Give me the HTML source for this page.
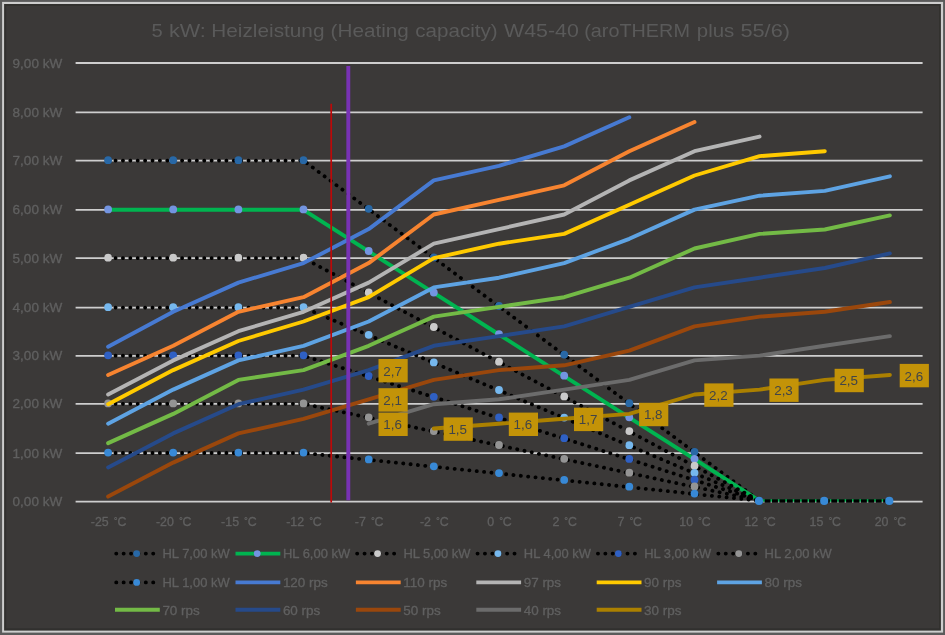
<!DOCTYPE html>
<html><head><meta charset="utf-8"><title>chart</title>
<style>html,body{margin:0;padding:0;background:#3B3938;}body{width:945px;height:635px;overflow:hidden;}svg{display:block;}text{font-family:"Liberation Sans",sans-serif;stroke-linejoin:round;}.t{stroke:#606060;stroke-width:0.3px;}svg{will-change:transform;}</style></head><body>
<svg width="945" height="635" viewBox="0 0 945 635">
<rect x="0" y="0" width="945" height="635" fill="#5A5A5A"/>
<rect x="2.1" y="1.9" width="941" height="630.7" fill="#CDCDCD"/>
<rect x="4.1" y="4" width="936.8" height="626.6" fill="#31302E"/>
<rect x="6.2" y="5.9" width="932.9" height="622.4" fill="#3B3938"/>
<text y="37.4" font-size="18.6" fill="#5A5A5A"><tspan x="151.4" textLength="11.2" lengthAdjust="spacingAndGlyphs">5</tspan> <tspan x="169.0" textLength="36.9" lengthAdjust="spacingAndGlyphs">kW:</tspan> <tspan x="211.3" textLength="113.2" lengthAdjust="spacingAndGlyphs">Heizleistung</tspan> <tspan x="330.6" textLength="78.2" lengthAdjust="spacingAndGlyphs">(Heating</tspan> <tspan x="415.3" textLength="82.4" lengthAdjust="spacingAndGlyphs">capacity)</tspan> <tspan x="504.0" textLength="74.8" lengthAdjust="spacingAndGlyphs">W45-40</tspan> <tspan x="584.2" textLength="105.7" lengthAdjust="spacingAndGlyphs">(aroTHERM</tspan> <tspan x="696.8" textLength="37.5" lengthAdjust="spacingAndGlyphs">plus</tspan> <tspan x="740.4" textLength="49.6" lengthAdjust="spacingAndGlyphs">55/6)</tspan></text>
<line x1="75.6" x2="922.6" y1="501.70" y2="501.70" stroke="#CECECE" stroke-width="1.8"/>
<text x="62.2" y="506.20" text-anchor="end" class="t" font-size="12.4" fill="#606060" textLength="49.6" lengthAdjust="spacingAndGlyphs">0,00 kW</text>
<line x1="75.6" x2="922.6" y1="453.10" y2="453.10" stroke="#CECECE" stroke-width="1.8"/>
<text x="62.2" y="457.60" text-anchor="end" class="t" font-size="12.4" fill="#606060" textLength="49.6" lengthAdjust="spacingAndGlyphs">1,00 kW</text>
<line x1="75.6" x2="922.6" y1="403.90" y2="403.90" stroke="#CECECE" stroke-width="1.8"/>
<text x="62.2" y="408.40" text-anchor="end" class="t" font-size="12.4" fill="#606060" textLength="49.6" lengthAdjust="spacingAndGlyphs">2,00 kW</text>
<line x1="75.6" x2="922.6" y1="355.80" y2="355.80" stroke="#CECECE" stroke-width="1.8"/>
<text x="62.2" y="360.30" text-anchor="end" class="t" font-size="12.4" fill="#606060" textLength="49.6" lengthAdjust="spacingAndGlyphs">3,00 kW</text>
<line x1="75.6" x2="922.6" y1="307.70" y2="307.70" stroke="#CECECE" stroke-width="1.8"/>
<text x="62.2" y="312.20" text-anchor="end" class="t" font-size="12.4" fill="#606060" textLength="49.6" lengthAdjust="spacingAndGlyphs">4,00 kW</text>
<line x1="75.6" x2="922.6" y1="258.20" y2="258.20" stroke="#CECECE" stroke-width="1.8"/>
<text x="62.2" y="262.70" text-anchor="end" class="t" font-size="12.4" fill="#606060" textLength="49.6" lengthAdjust="spacingAndGlyphs">5,00 kW</text>
<line x1="75.6" x2="922.6" y1="209.90" y2="209.90" stroke="#CECECE" stroke-width="1.8"/>
<text x="62.2" y="214.40" text-anchor="end" class="t" font-size="12.4" fill="#606060" textLength="49.6" lengthAdjust="spacingAndGlyphs">6,00 kW</text>
<line x1="75.6" x2="922.6" y1="160.70" y2="160.70" stroke="#CECECE" stroke-width="1.8"/>
<text x="62.2" y="165.20" text-anchor="end" class="t" font-size="12.4" fill="#606060" textLength="49.6" lengthAdjust="spacingAndGlyphs">7,00 kW</text>
<line x1="75.6" x2="922.6" y1="112.40" y2="112.40" stroke="#CECECE" stroke-width="1.8"/>
<text x="62.2" y="116.90" text-anchor="end" class="t" font-size="12.4" fill="#606060" textLength="49.6" lengthAdjust="spacingAndGlyphs">8,00 kW</text>
<line x1="75.6" x2="922.6" y1="63.00" y2="63.00" stroke="#CECECE" stroke-width="1.8"/>
<text x="62.2" y="67.50" text-anchor="end" class="t" font-size="12.4" fill="#606060" textLength="49.6" lengthAdjust="spacingAndGlyphs">9,00 kW</text>
<text x="108.6" y="526" text-anchor="middle" class="t" font-size="12.4" fill="#606060">-25 <tspan font-size="9.6" dx="1.6" dy="-1.6">°</tspan><tspan dy="1.6" dx="-0.2">C</tspan></text>
<text x="173.7" y="526" text-anchor="middle" class="t" font-size="12.4" fill="#606060">-20 <tspan font-size="9.6" dx="1.6" dy="-1.6">°</tspan><tspan dy="1.6" dx="-0.2">C</tspan></text>
<text x="238.9" y="526" text-anchor="middle" class="t" font-size="12.4" fill="#606060">-15 <tspan font-size="9.6" dx="1.6" dy="-1.6">°</tspan><tspan dy="1.6" dx="-0.2">C</tspan></text>
<text x="304.0" y="526" text-anchor="middle" class="t" font-size="12.4" fill="#606060">-12 <tspan font-size="9.6" dx="1.6" dy="-1.6">°</tspan><tspan dy="1.6" dx="-0.2">C</tspan></text>
<text x="369.2" y="526" text-anchor="middle" class="t" font-size="12.4" fill="#606060">-7 <tspan font-size="9.6" dx="1.6" dy="-1.6">°</tspan><tspan dy="1.6" dx="-0.2">C</tspan></text>
<text x="434.3" y="526" text-anchor="middle" class="t" font-size="12.4" fill="#606060">-2 <tspan font-size="9.6" dx="1.6" dy="-1.6">°</tspan><tspan dy="1.6" dx="-0.2">C</tspan></text>
<text x="499.5" y="526" text-anchor="middle" class="t" font-size="12.4" fill="#606060">0 <tspan font-size="9.6" dx="1.6" dy="-1.6">°</tspan><tspan dy="1.6" dx="-0.2">C</tspan></text>
<text x="564.7" y="526" text-anchor="middle" class="t" font-size="12.4" fill="#606060">2 <tspan font-size="9.6" dx="1.6" dy="-1.6">°</tspan><tspan dy="1.6" dx="-0.2">C</tspan></text>
<text x="629.8" y="526" text-anchor="middle" class="t" font-size="12.4" fill="#606060">7 <tspan font-size="9.6" dx="1.6" dy="-1.6">°</tspan><tspan dy="1.6" dx="-0.2">C</tspan></text>
<text x="695.0" y="526" text-anchor="middle" class="t" font-size="12.4" fill="#606060">10 <tspan font-size="9.6" dx="1.6" dy="-1.6">°</tspan><tspan dy="1.6" dx="-0.2">C</tspan></text>
<text x="760.1" y="526" text-anchor="middle" class="t" font-size="12.4" fill="#606060">12 <tspan font-size="9.6" dx="1.6" dy="-1.6">°</tspan><tspan dy="1.6" dx="-0.2">C</tspan></text>
<text x="825.3" y="526" text-anchor="middle" class="t" font-size="12.4" fill="#606060">15 <tspan font-size="9.6" dx="1.6" dy="-1.6">°</tspan><tspan dy="1.6" dx="-0.2">C</tspan></text>
<text x="890.4" y="526" text-anchor="middle" class="t" font-size="12.4" fill="#606060">20 <tspan font-size="9.6" dx="1.6" dy="-1.6">°</tspan><tspan dy="1.6" dx="-0.2">C</tspan></text>
<polyline points="108.1,160.6 173.2,160.6 238.4,160.6 303.5,160.6 368.7,209.2 433.8,257.8 499.0,306.4 564.2,355.0 629.3,403.6 694.5,452.2 759.6,500.8" fill="none" stroke="#000" stroke-width="3.8" stroke-linecap="round" stroke-linejoin="round" stroke-dasharray="0.15 7.24"/>
<circle cx="108.1" cy="160.2" r="3.9" fill="#2868A6"/>
<circle cx="173.2" cy="160.2" r="3.9" fill="#2868A6"/>
<circle cx="238.4" cy="160.2" r="3.9" fill="#2868A6"/>
<circle cx="303.5" cy="160.2" r="3.9" fill="#2868A6"/>
<circle cx="368.7" cy="208.8" r="3.9" fill="#2868A6"/>
<circle cx="433.8" cy="257.4" r="3.9" fill="#2868A6"/>
<circle cx="499.0" cy="306.0" r="3.9" fill="#2868A6"/>
<circle cx="564.2" cy="354.6" r="3.9" fill="#2868A6"/>
<circle cx="629.3" cy="403.2" r="3.9" fill="#2868A6"/>
<circle cx="694.5" cy="451.8" r="3.9" fill="#2868A6"/>
<polyline points="108.1,209.8 173.2,209.8 238.4,209.8 303.5,209.8 368.7,251.4 433.8,292.9 499.0,334.5 564.2,376.1 629.3,417.7 694.5,459.2 759.6,500.8" fill="none" stroke="#00B450" stroke-width="3.9" stroke-linecap="round" stroke-linejoin="round"/>
<line x1="759.6" x2="889.9" y1="500.5" y2="500.5" stroke="#00B450" stroke-width="2.4"/>
<circle cx="108.1" cy="209.4" r="3.9" fill="#7394E0"/>
<circle cx="173.2" cy="209.4" r="3.9" fill="#7394E0"/>
<circle cx="238.4" cy="209.4" r="3.9" fill="#7394E0"/>
<circle cx="303.5" cy="209.4" r="3.9" fill="#7394E0"/>
<circle cx="368.7" cy="251.0" r="3.9" fill="#7394E0"/>
<circle cx="433.8" cy="292.5" r="3.9" fill="#7394E0"/>
<circle cx="499.0" cy="334.1" r="3.9" fill="#7394E0"/>
<circle cx="564.2" cy="375.7" r="3.9" fill="#7394E0"/>
<circle cx="629.3" cy="417.3" r="3.9" fill="#7394E0"/>
<circle cx="694.5" cy="458.8" r="3.9" fill="#7394E0"/>
<polyline points="108.1,258.1 173.2,258.1 238.4,258.1 303.5,258.1 368.7,292.8 433.8,327.4 499.0,362.1 564.2,396.8 629.3,431.5 694.5,466.1 759.6,500.8" fill="none" stroke="#000" stroke-width="3.8" stroke-linecap="round" stroke-linejoin="round" stroke-dasharray="0.15 7.24"/>
<circle cx="108.1" cy="257.7" r="3.9" fill="#CACACA"/>
<circle cx="173.2" cy="257.7" r="3.9" fill="#CACACA"/>
<circle cx="238.4" cy="257.7" r="3.9" fill="#CACACA"/>
<circle cx="303.5" cy="257.7" r="3.9" fill="#CACACA"/>
<circle cx="368.7" cy="292.4" r="3.9" fill="#CACACA"/>
<circle cx="433.8" cy="327.0" r="3.9" fill="#CACACA"/>
<circle cx="499.0" cy="361.7" r="3.9" fill="#CACACA"/>
<circle cx="564.2" cy="396.4" r="3.9" fill="#CACACA"/>
<circle cx="629.3" cy="431.1" r="3.9" fill="#CACACA"/>
<circle cx="694.5" cy="465.7" r="3.9" fill="#CACACA"/>
<polyline points="108.1,307.6 173.2,307.6 238.4,307.6 303.5,307.6 368.7,335.2 433.8,362.8 499.0,390.4 564.2,418.0 629.3,445.6 694.5,473.2 759.6,500.8" fill="none" stroke="#000" stroke-width="3.8" stroke-linecap="round" stroke-linejoin="round" stroke-dasharray="0.15 7.24"/>
<circle cx="108.1" cy="307.2" r="3.9" fill="#76B8EE"/>
<circle cx="173.2" cy="307.2" r="3.9" fill="#76B8EE"/>
<circle cx="238.4" cy="307.2" r="3.9" fill="#76B8EE"/>
<circle cx="303.5" cy="307.2" r="3.9" fill="#76B8EE"/>
<circle cx="368.7" cy="334.8" r="3.9" fill="#76B8EE"/>
<circle cx="433.8" cy="362.4" r="3.9" fill="#76B8EE"/>
<circle cx="499.0" cy="390.0" r="3.9" fill="#76B8EE"/>
<circle cx="564.2" cy="417.6" r="3.9" fill="#76B8EE"/>
<circle cx="629.3" cy="445.2" r="3.9" fill="#76B8EE"/>
<circle cx="694.5" cy="472.8" r="3.9" fill="#76B8EE"/>
<polyline points="108.1,355.7 173.2,355.7 238.4,355.7 303.5,355.7 368.7,376.4 433.8,397.2 499.0,417.9 564.2,438.6 629.3,459.3 694.5,480.1 759.6,500.8" fill="none" stroke="#000" stroke-width="3.8" stroke-linecap="round" stroke-linejoin="round" stroke-dasharray="0.15 7.24"/>
<circle cx="108.1" cy="355.3" r="3.9" fill="#2F60C4"/>
<circle cx="173.2" cy="355.3" r="3.9" fill="#2F60C4"/>
<circle cx="238.4" cy="355.3" r="3.9" fill="#2F60C4"/>
<circle cx="303.5" cy="355.3" r="3.9" fill="#2F60C4"/>
<circle cx="368.7" cy="376.0" r="3.9" fill="#2F60C4"/>
<circle cx="433.8" cy="396.8" r="3.9" fill="#2F60C4"/>
<circle cx="499.0" cy="417.5" r="3.9" fill="#2F60C4"/>
<circle cx="564.2" cy="438.2" r="3.9" fill="#2F60C4"/>
<circle cx="629.3" cy="458.9" r="3.9" fill="#2F60C4"/>
<circle cx="694.5" cy="479.7" r="3.9" fill="#2F60C4"/>
<polyline points="108.1,403.8 173.2,403.8 238.4,403.8 303.5,403.8 368.7,417.7 433.8,431.5 499.0,445.4 564.2,459.2 629.3,473.1 694.5,486.9 759.6,500.8" fill="none" stroke="#000" stroke-width="3.8" stroke-linecap="round" stroke-linejoin="round" stroke-dasharray="0.15 7.24"/>
<circle cx="108.1" cy="403.4" r="3.9" fill="#949494"/>
<circle cx="173.2" cy="403.4" r="3.9" fill="#949494"/>
<circle cx="238.4" cy="403.4" r="3.9" fill="#949494"/>
<circle cx="303.5" cy="403.4" r="3.9" fill="#949494"/>
<circle cx="368.7" cy="417.3" r="3.9" fill="#949494"/>
<circle cx="433.8" cy="431.1" r="3.9" fill="#949494"/>
<circle cx="499.0" cy="445.0" r="3.9" fill="#949494"/>
<circle cx="564.2" cy="458.8" r="3.9" fill="#949494"/>
<circle cx="629.3" cy="472.7" r="3.9" fill="#949494"/>
<circle cx="694.5" cy="486.5" r="3.9" fill="#949494"/>
<polyline points="108.1,453.0 173.2,453.0 238.4,453.0 303.5,453.0 368.7,459.8 433.8,466.7 499.0,473.5 564.2,480.3 629.3,487.1 694.5,494.0 759.6,500.8" fill="none" stroke="#000" stroke-width="3.8" stroke-linecap="round" stroke-linejoin="round" stroke-dasharray="0.15 7.24"/>
<circle cx="108.1" cy="452.6" r="3.9" fill="#3889D6"/>
<circle cx="173.2" cy="452.6" r="3.9" fill="#3889D6"/>
<circle cx="238.4" cy="452.6" r="3.9" fill="#3889D6"/>
<circle cx="303.5" cy="452.6" r="3.9" fill="#3889D6"/>
<circle cx="368.7" cy="459.4" r="3.9" fill="#3889D6"/>
<circle cx="433.8" cy="466.3" r="3.9" fill="#3889D6"/>
<circle cx="499.0" cy="473.1" r="3.9" fill="#3889D6"/>
<circle cx="564.2" cy="479.9" r="3.9" fill="#3889D6"/>
<circle cx="629.3" cy="486.7" r="3.9" fill="#3889D6"/>
<circle cx="694.5" cy="493.6" r="3.9" fill="#3889D6"/>
<line x1="757.2" x2="889.9" y1="500.9" y2="500.9" stroke="#000" stroke-width="3.5" stroke-dasharray="5.9 1.51"/>
<circle cx="759.0" cy="500.9" r="4.1" fill="#3889D6"/>
<circle cx="824.2" cy="500.9" r="4.1" fill="#3889D6"/>
<circle cx="889.3" cy="500.9" r="4.1" fill="#3889D6"/>
<polyline points="108.1,346.8 173.2,311.8 238.4,282.6 303.5,263.1 368.7,229.1 433.8,180.4 499.0,165.8 564.2,146.4 629.3,117.2" fill="none" stroke="#477AD2" stroke-width="3.9" stroke-linecap="round" stroke-linejoin="round"/>
<polyline points="108.1,375.0 173.2,345.8 238.4,311.8 303.5,297.2 368.7,263.1 433.8,214.5 499.0,199.9 564.2,185.3 629.3,151.2 694.5,122.0" fill="none" stroke="#F78430" stroke-width="3.9" stroke-linecap="round" stroke-linejoin="round"/>
<polyline points="108.1,394.5 173.2,360.4 238.4,331.2 303.5,311.8 368.7,282.6 433.8,243.7 499.0,229.1 564.2,214.5 629.3,180.4 694.5,151.2 759.6,136.6" fill="none" stroke="#B4B4B4" stroke-width="3.9" stroke-linecap="round" stroke-linejoin="round"/>
<polyline points="108.1,404.2 173.2,370.1 238.4,341.0 303.5,321.5 368.7,297.2 433.8,258.2 499.0,243.7 564.2,233.9 629.3,204.7 694.5,175.5 759.6,156.1 824.8,151.2" fill="none" stroke="#FFCA00" stroke-width="3.9" stroke-linecap="round" stroke-linejoin="round"/>
<polyline points="108.1,423.7 173.2,389.6 238.4,360.4 303.5,345.8 368.7,321.5 433.8,287.4 499.0,277.7 564.2,263.1 629.3,238.8 694.5,209.6 759.6,195.7 824.8,190.9 889.9,176.3" fill="none" stroke="#5EA3E3" stroke-width="3.9" stroke-linecap="round" stroke-linejoin="round"/>
<polyline points="108.1,443.1 173.2,413.9 238.4,379.9 303.5,370.1 368.7,345.8 433.8,316.6 499.0,306.9 564.2,297.2 629.3,277.7 694.5,248.5 759.6,233.9 824.8,229.5 889.9,215.4" fill="none" stroke="#73BA46" stroke-width="3.9" stroke-linecap="round" stroke-linejoin="round"/>
<polyline points="108.1,467.4 173.2,433.4 238.4,404.2 303.5,389.6 368.7,370.1 433.8,345.8 499.0,336.1 564.2,326.4 629.3,306.9 694.5,287.4 759.6,277.7 824.8,268.0 889.9,253.4" fill="none" stroke="#264A8A" stroke-width="3.9" stroke-linecap="round" stroke-linejoin="round"/>
<polyline points="108.1,496.6 173.2,462.6 238.4,433.4 303.5,418.8 368.7,399.3 433.8,379.9 499.0,370.1 564.2,365.3 629.3,350.7 694.5,326.4 759.6,316.6 824.8,311.8 889.9,302.0" fill="none" stroke="#9A470C" stroke-width="3.9" stroke-linecap="round" stroke-linejoin="round"/>
<polyline points="368.7,423.7 433.8,404.2 499.0,399.3 564.2,389.6 629.3,379.9 694.5,360.4 759.6,355.6 824.8,345.8 889.9,336.1" fill="none" stroke="#6C6C6C" stroke-width="3.9" stroke-linecap="round" stroke-linejoin="round"/>
<polyline points="433.8,428.5 499.0,423.7 564.2,418.8 629.3,413.9 694.5,394.5 759.6,389.6 824.8,379.9 889.9,375.0" fill="none" stroke="#AB8000" stroke-width="3.9" stroke-linecap="round" stroke-linejoin="round"/>
<line x1="331.2" x2="331.2" y1="103.8" y2="502.4" stroke="#BE0808" stroke-width="1.7"/>
<line x1="348.3" x2="348.3" y1="66" y2="500.3" stroke="#7832B4" stroke-width="3.9"/>
<rect x="378.5" y="359.0" width="29.2" height="23.4" fill="#C39308"/>
<text x="392.6" y="375.6" text-anchor="middle" font-size="13.4" fill="#414448">2,7</text>
<rect x="378.5" y="388.2" width="29.2" height="23.4" fill="#C39308"/>
<text x="392.6" y="404.8" text-anchor="middle" font-size="13.4" fill="#414448">2,1</text>
<rect x="378.5" y="412.6" width="29.2" height="23.4" fill="#C39308"/>
<text x="392.6" y="429.2" text-anchor="middle" font-size="13.4" fill="#414448">1,6</text>
<rect x="443.6" y="417.4" width="29.2" height="23.4" fill="#C39308"/>
<text x="457.7" y="434.0" text-anchor="middle" font-size="13.4" fill="#414448">1,5</text>
<rect x="508.8" y="412.6" width="29.2" height="23.4" fill="#C39308"/>
<text x="522.9" y="429.2" text-anchor="middle" font-size="13.4" fill="#414448">1,6</text>
<rect x="574.0" y="407.7" width="29.2" height="23.4" fill="#C39308"/>
<text x="588.1" y="424.3" text-anchor="middle" font-size="13.4" fill="#414448">1,7</text>
<rect x="639.1" y="402.8" width="29.2" height="23.4" fill="#C39308"/>
<text x="653.2" y="419.4" text-anchor="middle" font-size="13.4" fill="#414448">1,8</text>
<rect x="704.3" y="383.4" width="29.2" height="23.4" fill="#C39308"/>
<text x="718.4" y="400.0" text-anchor="middle" font-size="13.4" fill="#414448">2,2</text>
<rect x="769.4" y="378.5" width="29.2" height="23.4" fill="#C39308"/>
<text x="783.5" y="395.1" text-anchor="middle" font-size="13.4" fill="#414448">2,3</text>
<rect x="834.6" y="368.8" width="29.2" height="23.4" fill="#C39308"/>
<text x="848.7" y="385.4" text-anchor="middle" font-size="13.4" fill="#414448">2,5</text>
<rect x="899.7" y="363.9" width="29.2" height="23.4" fill="#C39308"/>
<text x="913.8" y="380.5" text-anchor="middle" font-size="13.4" fill="#414448">2,6</text>
<line x1="116.2" x2="155.8" y1="553.6" y2="553.6" stroke="#000" stroke-width="3.8" stroke-linecap="round" stroke-dasharray="0.15 7.24"/>
<circle cx="136.7" cy="553.6" r="3.4" fill="#2868A6"/>
<text x="162.5" y="558.3" class="t" font-size="12.4" fill="#606060" textLength="67.1" lengthAdjust="spacingAndGlyphs">HL 7,00 kW</text>
<line x1="235.5" x2="280.3" y1="553.6" y2="553.6" stroke="#00B450" stroke-width="3.9"/>
<circle cx="257.2" cy="553.6" r="3.4" fill="#7394E0"/>
<text x="283.0" y="558.3" class="t" font-size="12.4" fill="#606060" textLength="67.1" lengthAdjust="spacingAndGlyphs">HL 6,00 kW</text>
<line x1="357.1" x2="396.7" y1="553.6" y2="553.6" stroke="#000" stroke-width="3.8" stroke-linecap="round" stroke-dasharray="0.15 7.24"/>
<circle cx="377.6" cy="553.6" r="3.4" fill="#CACACA"/>
<text x="403.4" y="558.3" class="t" font-size="12.4" fill="#606060" textLength="67.1" lengthAdjust="spacingAndGlyphs">HL 5,00 kW</text>
<line x1="477.5" x2="517.1" y1="553.6" y2="553.6" stroke="#000" stroke-width="3.8" stroke-linecap="round" stroke-dasharray="0.15 7.24"/>
<circle cx="498.0" cy="553.6" r="3.4" fill="#76B8EE"/>
<text x="523.8" y="558.3" class="t" font-size="12.4" fill="#606060" textLength="67.1" lengthAdjust="spacingAndGlyphs">HL 4,00 kW</text>
<line x1="597.9" x2="637.5" y1="553.6" y2="553.6" stroke="#000" stroke-width="3.8" stroke-linecap="round" stroke-dasharray="0.15 7.24"/>
<circle cx="618.4" cy="553.6" r="3.4" fill="#2F60C4"/>
<text x="644.2" y="558.3" class="t" font-size="12.4" fill="#606060" textLength="67.1" lengthAdjust="spacingAndGlyphs">HL 3,00 kW</text>
<line x1="718.3" x2="757.9" y1="553.6" y2="553.6" stroke="#000" stroke-width="3.8" stroke-linecap="round" stroke-dasharray="0.15 7.24"/>
<circle cx="738.8" cy="553.6" r="3.4" fill="#949494"/>
<text x="764.6" y="558.3" class="t" font-size="12.4" fill="#606060" textLength="67.1" lengthAdjust="spacingAndGlyphs">HL 2,00 kW</text>
<line x1="116.2" x2="155.8" y1="582.4" y2="582.4" stroke="#000" stroke-width="3.8" stroke-linecap="round" stroke-dasharray="0.15 7.24"/>
<circle cx="136.7" cy="582.4" r="3.4" fill="#3889D6"/>
<text x="162.5" y="586.6" class="t" font-size="12.4" fill="#606060" textLength="67.1" lengthAdjust="spacingAndGlyphs">HL 1,00 kW</text>
<line x1="235.5" x2="280.3" y1="582.4" y2="582.4" stroke="#477AD2" stroke-width="3.9"/>
<text x="282.9" y="586.6" class="t" font-size="12.4" fill="#606060" textLength="44.9" lengthAdjust="spacingAndGlyphs">120 rps</text>
<line x1="355.9" x2="400.7" y1="582.4" y2="582.4" stroke="#F78430" stroke-width="3.9"/>
<text x="403.3" y="586.6" class="t" font-size="12.4" fill="#606060" textLength="43.9" lengthAdjust="spacingAndGlyphs">110 rps</text>
<line x1="476.3" x2="521.1" y1="582.4" y2="582.4" stroke="#B4B4B4" stroke-width="3.9"/>
<text x="523.7" y="586.6" class="t" font-size="12.4" fill="#606060" textLength="37.4" lengthAdjust="spacingAndGlyphs">97 rps</text>
<line x1="596.7" x2="641.5" y1="582.4" y2="582.4" stroke="#FFCA00" stroke-width="3.9"/>
<text x="644.1" y="586.6" class="t" font-size="12.4" fill="#606060" textLength="37.4" lengthAdjust="spacingAndGlyphs">90 rps</text>
<line x1="717.1" x2="761.9" y1="582.4" y2="582.4" stroke="#5EA3E3" stroke-width="3.9"/>
<text x="764.5" y="586.6" class="t" font-size="12.4" fill="#606060" textLength="37.4" lengthAdjust="spacingAndGlyphs">80 rps</text>
<line x1="115.0" x2="159.8" y1="609.8" y2="609.8" stroke="#73BA46" stroke-width="3.9"/>
<text x="162.4" y="614.6" class="t" font-size="12.4" fill="#606060" textLength="37.4" lengthAdjust="spacingAndGlyphs">70 rps</text>
<line x1="235.5" x2="280.3" y1="609.8" y2="609.8" stroke="#264A8A" stroke-width="3.9"/>
<text x="282.9" y="614.6" class="t" font-size="12.4" fill="#606060" textLength="37.4" lengthAdjust="spacingAndGlyphs">60 rps</text>
<line x1="355.9" x2="400.7" y1="609.8" y2="609.8" stroke="#9A470C" stroke-width="3.9"/>
<text x="403.3" y="614.6" class="t" font-size="12.4" fill="#606060" textLength="37.4" lengthAdjust="spacingAndGlyphs">50 rps</text>
<line x1="476.3" x2="521.1" y1="609.8" y2="609.8" stroke="#6C6C6C" stroke-width="3.9"/>
<text x="523.7" y="614.6" class="t" font-size="12.4" fill="#606060" textLength="37.4" lengthAdjust="spacingAndGlyphs">40 rps</text>
<line x1="596.7" x2="641.5" y1="609.8" y2="609.8" stroke="#AB8000" stroke-width="3.9"/>
<text x="644.1" y="614.6" class="t" font-size="12.4" fill="#606060" textLength="37.4" lengthAdjust="spacingAndGlyphs">30 rps</text>
</svg></body></html>
